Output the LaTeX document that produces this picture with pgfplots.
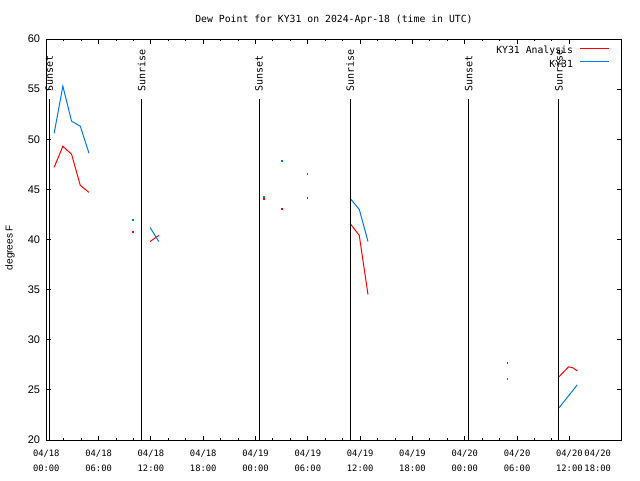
\documentclass[border=0pt]{standalone}
\usepackage{fontspec}
\setmainfont{DejaVu Sans Mono}
\newfontfamily\sansf{Liberation Sans}
\usepackage{pgfplots}
\pgfplotsset{compat=1.18}
\definecolor{ared}{RGB}{255,0,0}
\definecolor{kblue}{RGB}{0,120,240}
\begin{document}
\begin{tikzpicture}
\useasboundingbox (-46.3pt,-40pt) rectangle (593.7pt,440pt);
\begin{axis}[
  at={(0,0)}, anchor=south west,
  scale only axis, width=575.4pt, height=401pt,
  xmin=0, xmax=66, ymin=20, ymax=60,
  axis line style={black, line width=1pt},
  every tick/.style={black, line width=1pt},
  tick align=inside,
  xtick pos=both, ytick pos=both,
  major tick length=4.5pt, minor tick length=2.3pt,
  xtick={0,6,...,60},
  minor x tick num=2,
  xticklabels={{04/18\\00:00},{04/18\\06:00},{04/18\\12:00},{04/18\\18:00},{04/19\\00:00},{04/19\\06:00},{04/19\\12:00},{04/19\\18:00},{04/20\\00:00},{04/20\\06:00},{04/20\\12:00}},
  extra x ticks={66},
  extra x tick labels={{04/20\\18:00}},
  extra x tick style={xticklabel style={xshift=-24pt}},
  xticklabel style={align=center, font=\fontsize{8.8}{15}\selectfont, inner sep=0pt, yshift=-10pt},
  ytick={20,25,...,60},
  /pgf/number format/assume math mode=true,
  yticklabel style={font=\sansf\fontsize{11}{11}\selectfont, inner sep=0pt, xshift=-6pt},
  title={Dew Point for KY31 on 2024-Apr-18 (time in UTC)},
  every axis title shift=0pt,
  title style={font=\fontsize{9.8}{12}\selectfont, at={(0.5,1)}, anchor=center, yshift=19pt},
  ylabel={degrees F},
  ylabel style={font=\sansf\fontsize{10}{10}\selectfont, at={(axis description cs:-0.0631,0.48)}, anchor=center},
  legend plot pos=right,
  legend cell align=right,
  legend style={at={(1,1)}, anchor=north east, xshift=-12.7pt, yshift=-6pt, draw=none, fill=none,
    inner sep=0pt, outer sep=0pt, column sep=6pt,
    font=\fontsize{9.8}{12}\selectfont,
    nodes={inner sep=0pt, text height=8.5pt, text depth=5pt}},
  clip=false,
]
% KY31 Analysis (red)
\addplot[color=ared, line width=1pt, unbounded coords=jump,
  legend image code/.code={\draw[draw=ared, line width=1pt] (0pt,3.5pt) -- (29pt,3.5pt);}] coordinates {
  (0.9,47.2) (1.9,49.3) (2.9,48.5) (3.9,45.4) (4.9,44.7)
  (5.0,nan)
  (11.9,39.8) (12.9,40.4)
  (13.0,nan)
  (34.85,41.6) (35.9,40.4) (36.9,34.5)
  (37.0,nan)
  (58.8,26.3) (59.9,27.3) (60.4,27.2) (60.9,26.9)
};
\addlegendentry{KY31 Analysis}
% KY31 (blue)
\addplot[color=kblue, line width=1pt, unbounded coords=jump,
  legend image code/.code={\draw[draw=kblue, line width=1pt] (0pt,3.5pt) -- (29pt,3.5pt);}] coordinates {
  (0.9,50.6) (1.9,55.3) (2.9,51.8) (3.9,51.3) (4.9,48.6)
  (5.0,nan)
  (11.9,41.2) (12.9,39.8)
  (13.0,nan)
  (34.85,44.1) (35.9,43.0) (36.9,39.8)
  (37.0,nan)
  (58.8,23.2) (59.9,24.4) (60.9,25.5)
};
\addlegendentry{KY31}
% isolated observations
\addplot[ared, only marks, mark=square*, mark size=0.45pt, mark options={draw=none, fill=ared}, forget plot] coordinates {
  (9.86,40.8) (24.9,44.1) (26.95,43.1) (29.93,44.2) (52.87,27.7)};
\addplot[kblue, only marks, mark=square*, mark size=0.45pt, mark options={draw=none, fill=kblue}, forget plot] coordinates {
  (9.86,42.0) (24.9,44.3) (26.95,47.9) (29.93,46.6) (52.87,26.1)};
% sunrise / sunset lines
\addplot[black, line width=1pt, forget plot] coordinates {(0.35,20) (0.35,54)};
\addplot[black, line width=1pt, forget plot] coordinates {(10.94,20) (10.94,54)};
\addplot[black, line width=1pt, forget plot] coordinates {(24.4,20) (24.4,54)};
\addplot[black, line width=1pt, forget plot] coordinates {(34.85,20) (34.85,54)};
\addplot[black, line width=1pt, forget plot] coordinates {(48.45,20) (48.45,54)};
\addplot[black, line width=1pt, forget plot] coordinates {(58.8,20) (58.8,54)};
\node[rotate=90, anchor=west, inner sep=0pt, font=\fontsize{10}{12}\selectfont] at (axis cs:0.35,54.7) {Sunset};
\node[rotate=90, anchor=west, inner sep=0pt, font=\fontsize{10}{12}\selectfont] at (axis cs:10.94,54.7) {Sunrise};
\node[rotate=90, anchor=west, inner sep=0pt, font=\fontsize{10}{12}\selectfont] at (axis cs:24.4,54.7) {Sunset};
\node[rotate=90, anchor=west, inner sep=0pt, font=\fontsize{10}{12}\selectfont] at (axis cs:34.85,54.7) {Sunrise};
\node[rotate=90, anchor=west, inner sep=0pt, font=\fontsize{10}{12}\selectfont] at (axis cs:48.45,54.7) {Sunset};
\node[rotate=90, anchor=west, inner sep=0pt, font=\fontsize{10}{12}\selectfont] at (axis cs:58.8,54.7) {Sunrise};
\end{axis}
\end{tikzpicture}
\end{document}
